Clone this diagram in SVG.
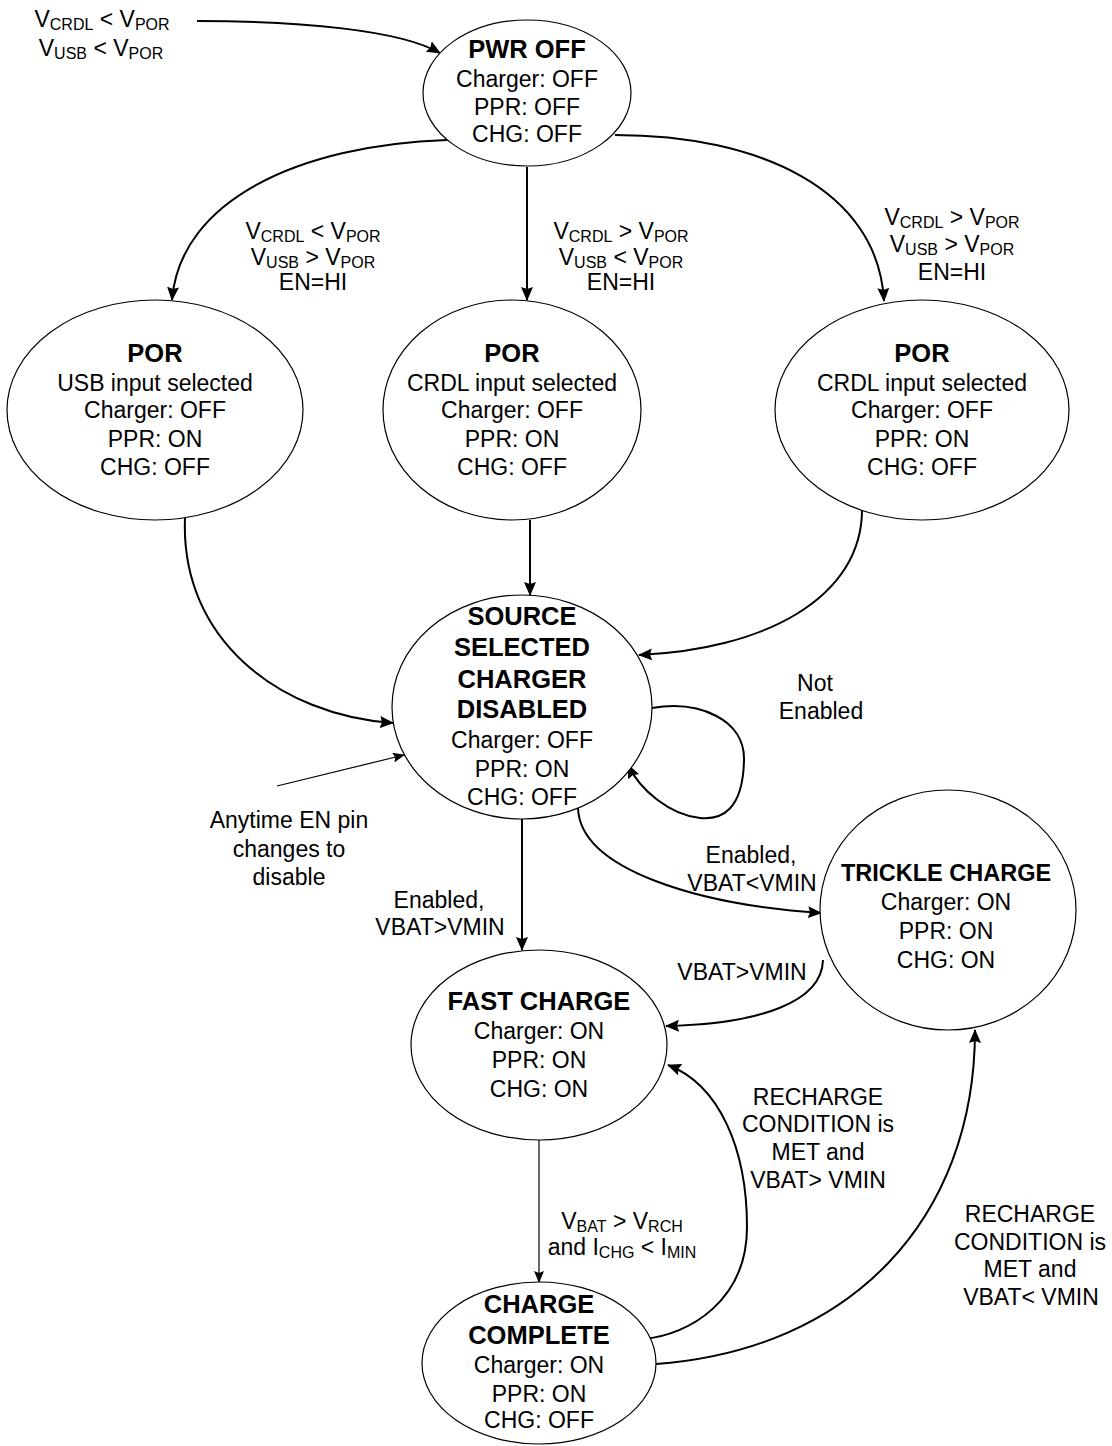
<svg xmlns="http://www.w3.org/2000/svg" width="1112" height="1446" viewBox="0 0 1112 1446">
<style>
  text { font-family: "Liberation Sans", Arial, Helvetica, sans-serif; font-size: 23px; text-anchor: middle; fill: #000; }
  .b { font-weight: bold; font-size: 25.5px; }
  .bs { font-weight: bold; font-size: 23.5px; }
  .sub { font-size: 16px; }
  .node ellipse { fill: #fff; stroke: #000; stroke-width: 1.2; }
  .edge { fill: none; stroke: #000; stroke-width: 2; marker-end: url(#ah); }
  .thin { fill: none; stroke: #000; stroke-width: 1.2; marker-end: url(#ahs); }
</style>
<defs>
  <marker id="ah" markerUnits="userSpaceOnUse" markerWidth="16" markerHeight="12" refX="13" refY="6" orient="auto">
    <path d="M0,0 L14,6 L0,12 L2,6 z" fill="#000"/>
  </marker>
  <marker id="ahs" markerUnits="userSpaceOnUse" markerWidth="14" markerHeight="10" refX="11" refY="5" orient="auto">
    <path d="M0,0 L12,5 L0,10 L2,5 z" fill="#000"/>
  </marker>
</defs>
<rect width="1112" height="1446" fill="#fff"/>

<g id="connectors">
  <path class="edge" d="M197,21 C300,21 400,30 440,53"/>
  <path class="edge" d="M447,140 C300,145 180,200 172,300"/>
  <path class="edge" d="M527,167 L527,300"/>
  <path class="edge" d="M615,135 C760,135 878,190 884,301"/>
  <path class="edge" d="M185,518 C180,640 280,715 393,723"/>
  <path class="edge" d="M530,520 L530,595"/>
  <path class="edge" d="M862,505 C865,600 760,650 639,655"/>
  <path class="thin" d="M277,786 L404,755"/>
  <path class="edge" d="M652,708 C700,700 745,720 744,760 C743,810 722,820 700,818 C670,815 640,790 628,765"/>
  <path class="edge" d="M522,819 L522,950"/>
  <path class="edge" d="M578,808 C580,870 700,905 821,913"/>
  <path class="edge" d="M823,960 C822,1002 760,1024 666,1026"/>
  <path class="thin" d="M539,1140 L539,1282"/>
  <path class="edge" d="M643,1339 C690,1335 747,1300 747,1227 C747,1150 720,1085 668,1065"/>
  <path class="edge" d="M656,1364 C850,1350 975,1220 975,1030"/>
</g>

<g id="edge-labels">
  <text x="102" y="27">V<tspan class="sub" dy="3">CRDL</tspan><tspan dy="-3"> &lt; V</tspan><tspan class="sub" dy="3">POR</tspan></text>
  <text x="101" y="56">V<tspan class="sub" dy="3">USB</tspan><tspan dy="-3"> &lt; V</tspan><tspan class="sub" dy="3">POR</tspan></text>

  <text x="313" y="239">V<tspan class="sub" dy="3">CRDL</tspan><tspan dy="-3"> &lt; V</tspan><tspan class="sub" dy="3">POR</tspan></text>
  <text x="313" y="265">V<tspan class="sub" dy="3">USB</tspan><tspan dy="-3"> &gt; V</tspan><tspan class="sub" dy="3">POR</tspan></text>
  <text x="313" y="290">EN=HI</text>

  <text x="621" y="239">V<tspan class="sub" dy="3">CRDL</tspan><tspan dy="-3"> &gt; V</tspan><tspan class="sub" dy="3">POR</tspan></text>
  <text x="621" y="265">V<tspan class="sub" dy="3">USB</tspan><tspan dy="-3"> &lt; V</tspan><tspan class="sub" dy="3">POR</tspan></text>
  <text x="621" y="290">EN=HI</text>

  <text x="952" y="225">V<tspan class="sub" dy="3">CRDL</tspan><tspan dy="-3"> &gt; V</tspan><tspan class="sub" dy="3">POR</tspan></text>
  <text x="952" y="252">V<tspan class="sub" dy="3">USB</tspan><tspan dy="-3"> &gt; V</tspan><tspan class="sub" dy="3">POR</tspan></text>
  <text x="952" y="280">EN=HI</text>

  <text x="815" y="691">Not</text>
  <text x="821" y="719">Enabled</text>

  <text x="289" y="828">Anytime EN pin</text>
  <text x="289" y="857">changes to</text>
  <text x="289" y="885">disable</text>

  <text x="439" y="908">Enabled,</text>
  <text x="440" y="935">VBAT&gt;VMIN</text>

  <text x="751" y="863">Enabled,</text>
  <text x="752" y="891">VBAT&lt;VMIN</text>

  <text x="742" y="980">VBAT&gt;VMIN</text>

  <text x="622" y="1229">V<tspan class="sub" dy="3">BAT</tspan><tspan dy="-3"> &gt; V</tspan><tspan class="sub" dy="3">RCH</tspan></text>
  <text x="622" y="1255">and I<tspan class="sub" dy="3">CHG</tspan><tspan dy="-3"> &lt; I</tspan><tspan class="sub" dy="3">MIN</tspan></text>

  <text x="818" y="1105">RECHARGE</text>
  <text x="818" y="1132">CONDITION is</text>
  <text x="818" y="1160">MET and</text>
  <text x="818" y="1188">VBAT&gt; VMIN</text>

  <text x="1030" y="1222">RECHARGE</text>
  <text x="1030" y="1250">CONDITION is</text>
  <text x="1030" y="1277">MET and</text>
  <text x="1031" y="1305">VBAT&lt; VMIN</text>
</g>

<g id="n-pwr-off" class="node">
  <ellipse cx="527" cy="93" rx="104" ry="73"/>
  <text class="b" x="527" y="58">PWR OFF</text>
  <text x="527" y="87">Charger: OFF</text>
  <text x="527" y="115">PPR: OFF</text>
  <text x="527" y="142">CHG: OFF</text>
</g>

<g id="n-por-usb" class="node">
  <ellipse cx="155" cy="410" rx="148" ry="110"/>
  <text class="b" x="155" y="362">POR</text>
  <text x="155" y="391">USB input selected</text>
  <text x="155" y="418">Charger: OFF</text>
  <text x="155" y="447">PPR: ON</text>
  <text x="155" y="475">CHG: OFF</text>
</g>

<g id="n-por-crdl-a" class="node">
  <ellipse cx="512" cy="410" rx="129" ry="110"/>
  <text class="b" x="512" y="362">POR</text>
  <text x="512" y="391">CRDL input selected</text>
  <text x="512" y="418">Charger: OFF</text>
  <text x="512" y="447">PPR: ON</text>
  <text x="512" y="475">CHG: OFF</text>
</g>

<g id="n-por-crdl-b" class="node">
  <ellipse cx="922" cy="410" rx="147" ry="110"/>
  <text class="b" x="922" y="362">POR</text>
  <text x="922" y="391">CRDL input selected</text>
  <text x="922" y="418">Charger: OFF</text>
  <text x="922" y="447">PPR: ON</text>
  <text x="922" y="475">CHG: OFF</text>
</g>

<g id="n-source-selected" class="node">
  <ellipse cx="522" cy="707" rx="130" ry="112"/>
  <text class="b" x="522" y="625">SOURCE</text>
  <text class="b" x="522" y="656">SELECTED</text>
  <text class="b" x="522" y="688">CHARGER</text>
  <text class="b" x="522" y="718">DISABLED</text>
  <text x="522" y="748">Charger: OFF</text>
  <text x="522" y="777">PPR: ON</text>
  <text x="522" y="805">CHG: OFF</text>
</g>

<g id="n-trickle" class="node">
  <ellipse cx="948" cy="910" rx="128" ry="120"/>
  <text class="bs" x="946" y="881">TRICKLE CHARGE</text>
  <text x="946" y="910">Charger: ON</text>
  <text x="946" y="939">PPR: ON</text>
  <text x="946" y="968">CHG: ON</text>
</g>

<g id="n-fast" class="node">
  <ellipse cx="539" cy="1045" rx="128" ry="95"/>
  <text class="b" x="539" y="1010">FAST CHARGE</text>
  <text x="539" y="1039">Charger: ON</text>
  <text x="539" y="1068">PPR: ON</text>
  <text x="539" y="1097">CHG: ON</text>
</g>

<g id="n-complete" class="node">
  <ellipse cx="539" cy="1363" rx="117" ry="81"/>
  <text class="b" x="539" y="1313">CHARGE</text>
  <text class="b" x="539" y="1344">COMPLETE</text>
  <text x="539" y="1373">Charger: ON</text>
  <text x="539" y="1402">PPR: ON</text>
  <text x="539" y="1428">CHG: OFF</text>
</g>
</svg>
